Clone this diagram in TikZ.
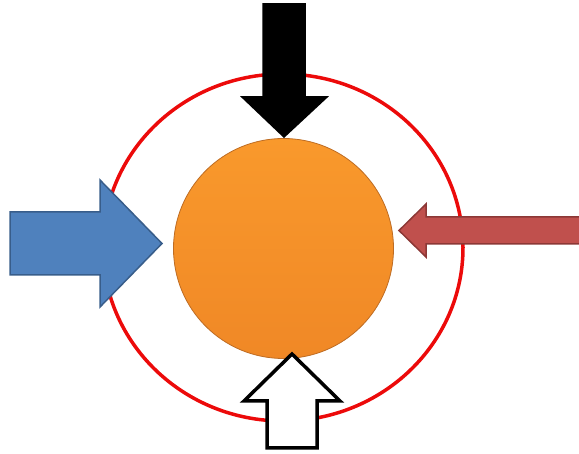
\documentclass[tikz,border=0pt]{standalone}
\usetikzlibrary{shapes}

\definecolor{ringred}{RGB}{236,10,10}
\definecolor{coretop}{RGB}{249,153,44}
\definecolor{corebottom}{RGB}{240,136,38}
\definecolor{coreedge}{RGB}{190,108,35}
\definecolor{inblue}{RGB}{79,129,189}
\definecolor{inblueedge}{RGB}{56,93,138}
\definecolor{outred}{RGB}{192,80,77}
\definecolor{outrededge}{RGB}{140,56,54}

\begin{document}
\begin{tikzpicture}[x=1pt,y=-1pt,
  ring/.style={draw=ringred,line width=3.5pt},
  core/.style={draw=coreedge,line width=0.8pt,top color=coretop,bottom color=corebottom},
  blockarrow/.style={line width=1.5pt,line join=miter}]
  \useasboundingbox (0,0) rectangle (579,454);

  %% Boundary
  \draw[ring] (283,247.5) ellipse [x radius=180pt,y radius=173.5pt];

  %% Core
  \draw[core] (283.5,248.5) circle [radius=110pt];

  %% Inflow from the left
  \draw[blockarrow,fill=inblue,draw=inblueedge]
  (10,212) -- (100,212) -- (100,180) -- (162,243.5) -- (100,307) -- (100,275) -- (10,275) -- cycle;

  %% Outflow to the right
  \draw[blockarrow,fill=outred,draw=outrededge]
  (581,217) -- (426,217) -- (426,204) -- (399,230.5) -- (426,257) -- (426,244) -- (581,244) -- cycle;

  %% Input from above
  \draw[blockarrow,fill=black,draw=black]
  (263,4) -- (305,4) -- (305,97) -- (327,97) -- (284,137) -- (242,97) -- (263,97) -- cycle;

  %% Input from below
  \draw[blockarrow,fill=white,draw=black,line width=3.5pt]
  (267,448) -- (267,401) -- (244,401) -- (292,354) -- (340,401) -- (317,401) -- (317,448) -- cycle;

\end{tikzpicture}
\end{document}
